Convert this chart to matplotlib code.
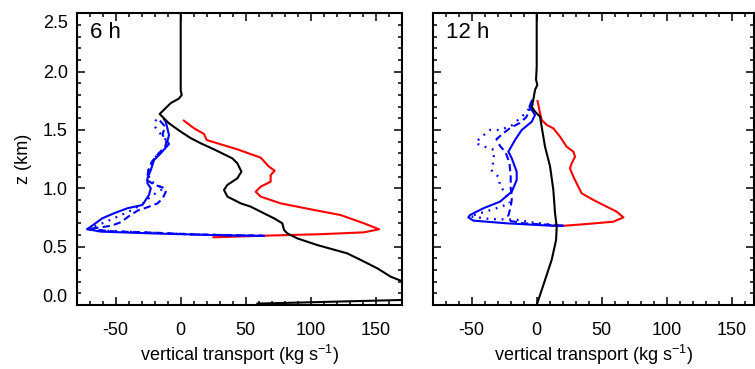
import matplotlib
matplotlib.use("Agg")
import matplotlib.pyplot as plt
from matplotlib.ticker import MultipleLocator

plt.rcParams['font.family'] = ['Liberation Sans', 'DejaVu Sans']
plt.rcParams['mathtext.fontset'] = 'custom'
plt.rcParams['mathtext.rm'] = 'Liberation Sans'
plt.rcParams['mathtext.it'] = 'Liberation Sans:italic'

# ---------------- data ----------------
panel_labels = ["6 h", "12 h"]
x_ticks = [-50, 0, 50, 100, 150]
y_ticks = [0.0, 0.5, 1.0, 1.5, 2.0, 2.5]
y_ticklabels = ["0.0", "0.5", "1.0", "1.5", "2.0", "2.5"]
xlabel = "vertical transport (kg s$^{-1}$)"
ylabel = "z (km)"

# 6 h
black6_x = [0, 0, 0.8, -1.3, -7.7, -16.2, -9, 0, 7.7, 15.4, 25.6, 39.7, 43.6, 46.7, 43.6,
            35.9, 33.3, 35.9, 46.2, 53.8, 61.5, 69.2, 71.8, 78.2, 79.5, 82, 89.7, 105,
            128, 138.5, 151.3, 161.5, 168, 200, 170, 59]
black6_z = [2.5, 1.84, 1.80, 1.77, 1.73, 1.637, 1.557, 1.486, 1.43, 1.386, 1.334, 1.257,
            1.214, 1.143, 1.086, 1.029, 0.986, 0.929, 0.871, 0.843, 0.8, 0.757, 0.743,
            0.70, 0.643, 0.614, 0.571, 0.514, 0.443, 0.386, 0.314, 0.243, 0.214, 0.08,
            0.043, 0.012]
red6_x = [1.8, 10.3, 17.9, 20, 28.2, 43.6, 61.5, 67.9, 72.3, 69.2, 69.2, 61.5, 57.7, 61.5,
          76.9, 100, 123, 141, 152.6, 141, 123, 105, 64, 24.4]
red6_z = [1.586, 1.514, 1.466, 1.414, 1.386, 1.334, 1.263, 1.186, 1.151, 1.114, 1.057,
          1.014, 0.971, 0.929, 0.871, 0.82, 0.771, 0.70, 0.649, 0.623, 0.614, 0.606,
          0.594, 0.58]
blue6_x = [-12.8, -11.5, -9, -10.3, -9, -15.4, -20.5, -23, -25.6, -25.6, -23, -24.4,
           -29.5, -41, -51.3, -60.3, -71.8, -61.5, -23, 23, 51, 64]
blue6_z = [1.59, 1.571, 1.457, 1.40, 1.38, 1.30, 1.243, 1.157, 1.086, 1.043, 1.0, 0.943,
           0.857, 0.829, 0.786, 0.743, 0.65, 0.629, 0.614, 0.60, 0.594, 0.592]
blue6_dash_x = [-16, -12, -14, -11, -12, -17, -22, -25, -26, -20, -12, -11.5, -14, -18,
                -25, -33, -40, -46, -53, -62, -72, -50, -20, 10, 40, 64]
blue6_dash_z = [1.58, 1.53, 1.46, 1.40, 1.35, 1.30, 1.23, 1.15, 1.07, 1.03, 1.0, 0.97,
                0.91, 0.87, 0.84, 0.81, 0.76, 0.71, 0.68, 0.665, 0.65, 0.63, 0.62, 0.605,
                0.598, 0.594]
blue6_dot_x = [-19, -20, -15, -10, -12, -17, -22, -25, -24, -17, -13, -19, -24, -30, -40,
               -48, -56, -65, -72, -55, -20, 20, 64]
blue6_dot_z = [1.59, 1.53, 1.46, 1.40, 1.35, 1.30, 1.23, 1.15, 1.07, 1.02, 1.0, 0.96,
               0.92, 0.86, 0.80, 0.76, 0.72, 0.68, 0.65, 0.635, 0.618, 0.602, 0.594]

# 12 h
black12_x = [0, 0, -0.5, 0.5, -1.3, -2.6, -3.8, -1.3, 2.6, 3.8, 6.4, 10.3, 12.8, 14.1,
             15.4, 14.9, 11.5, 6.4, 1.3, 0]
black12_z = [2.5, 2.04, 1.93, 1.886, 1.843, 1.76, 1.70, 1.657, 1.614, 1.529, 1.357,
             1.186, 0.986, 0.786, 0.671, 0.557, 0.386, 0.214, 0.043, 0.0]
red12_x = [0.5, 2.6, 3.8, 7.7, 12.8, 17.9, 23, 28.2, 29.5, 26.9, 25.6, 28.2, 32, 34.6,
           43.6, 53.8, 61.5, 66.7, 59, 38.5, 21.8, 10.3]
red12_z = [1.757, 1.643, 1.586, 1.543, 1.514, 1.443, 1.357, 1.314, 1.271, 1.214, 1.171,
           1.10, 1.014, 0.957, 0.90, 0.843, 0.80, 0.751, 0.714, 0.694, 0.68, 0.68]
blue12_x = [-3.8, -5.6, -1.3, -3.8, -11.5, -16.7, -21.8, -19.2, -15.4, -15.4, -19.2,
            -28.2, -41, -51.3, -52.6, -48.7, -23, 10.3, 20]
blue12_z = [1.751, 1.70, 1.629, 1.571, 1.50, 1.414, 1.314, 1.257, 1.143, 1.071, 0.971,
            0.886, 0.829, 0.771, 0.751, 0.723, 0.70, 0.68, 0.678]
blue12_dash_x = [-3, -6, -8, -13, -20, -26, -31, -28, -24, -21, -20, -20, -19, -20, -22,
                 -20, -10, 5, 20]
blue12_dash_z = [1.72, 1.66, 1.61, 1.56, 1.52, 1.47, 1.42, 1.36, 1.31, 1.22, 1.10, 1.00,
                 0.92, 0.84, 0.76, 0.72, 0.70, 0.69, 0.68]
blue12_dot_x = [-6, -10, -19, -28, -36, -43.6, -47, -43.6, -33, -33, -35, -29.5, -28,
                -24.4, -20.5, -31, -43.6, -51.3, -36, -15.4, -5, 10, 20]
blue12_dot_z = [1.68, 1.63, 1.54, 1.50, 1.50, 1.43, 1.39, 1.37, 1.33, 1.24, 1.157, 1.10,
                1.014, 0.97, 0.871, 0.829, 0.786, 0.76, 0.737, 0.731, 0.71, 0.69, 0.68]

panels = [
    dict(label=panel_labels[0], xlim=(-80, 170),
         black=(black6_x, black6_z), red=(red6_x, red6_z),
         blue=(blue6_x, blue6_z), dash=(blue6_dash_x, blue6_dash_z),
         dot=(blue6_dot_x, blue6_dot_z)),
    dict(label=panel_labels[1], xlim=(-80, 167.5),
         black=(black12_x, black12_z), red=(red12_x, red12_z),
         blue=(blue12_x, blue12_z), dash=(blue12_dash_x, blue12_dash_z),
         dot=(blue12_dot_x, blue12_dot_z)),
]

W, H = 755, 369
fig = plt.figure(figsize=(W / 100, H / 100), dpi=100)
rects = [[76.7 / W, 1 - 305 / H, 325 / W, 291.7 / H],
         [432.7 / W, 1 - 305 / H, 321.75 / W, 291.7 / H]]

lw = 1.5
fs = 13
for i, (p, r) in enumerate(zip(panels, rects)):
    ax = fig.add_axes(r)
    ax.plot(*p['red'], color='#ff0000', lw=lw, solid_capstyle='butt')
    ax.plot(*p['dash'], color='#0000ff', lw=lw, linestyle=(0, (3.5, 2)))
    ax.plot(*p['dot'], color='#0000ff', lw=lw * 1.1, linestyle=(0, (0.8, 2.5)))
    ax.plot(*p['blue'], color='#0000ff', lw=lw)
    ax.plot(*p['black'], color='black', lw=lw)
    ax.set_xlim(*p['xlim'])
    ax.set_ylim(0, 2.5)
    ax.set_xticks(x_ticks)
    ax.set_xticklabels([str(v) if v >= 0 else "-" + str(-v) for v in x_ticks], fontsize=fs)
    ax.xaxis.set_minor_locator(MultipleLocator(10))
    ax.yaxis.set_minor_locator(MultipleLocator(0.1))
    ax.set_yticks(y_ticks)
    if i == 0:
        ax.set_yticklabels([""] + y_ticklabels[1:-1] + [""], fontsize=fs)
        # end labels shifted inward as in the original
        ax.annotate(y_ticklabels[0], xy=(0, y_ticks[0]),
                    xycoords=('axes fraction', 'data'), xytext=(-6.5, 5.5),
                    textcoords='offset points', ha='right', va='center', fontsize=fs)
        ax.annotate(y_ticklabels[-1], xy=(0, y_ticks[-1]),
                    xycoords=('axes fraction', 'data'), xytext=(-6.5, -7),
                    textcoords='offset points', ha='right', va='center', fontsize=fs)
        ax.set_ylabel(ylabel, fontsize=fs, labelpad=8)
    else:
        ax.set_yticklabels([])
    ax.set_xlabel(xlabel, fontsize=fs, labelpad=3)
    ax.tick_params(which='both', direction='in', top=True, right=True, width=1.1)
    ax.tick_params(which='major', length=5.8)
    ax.tick_params(which='minor', length=3)
    ax.tick_params(axis='x', which='major', pad=12)
    ax.tick_params(axis='y', which='major', pad=6.5)
    for s in ax.spines.values():
        s.set_linewidth(1.5)
    ax.text(0.04, 0.914, p['label'], transform=ax.transAxes, fontsize=16,
            ha='left', va='baseline')

fig.savefig("out.png", dpi=100)
